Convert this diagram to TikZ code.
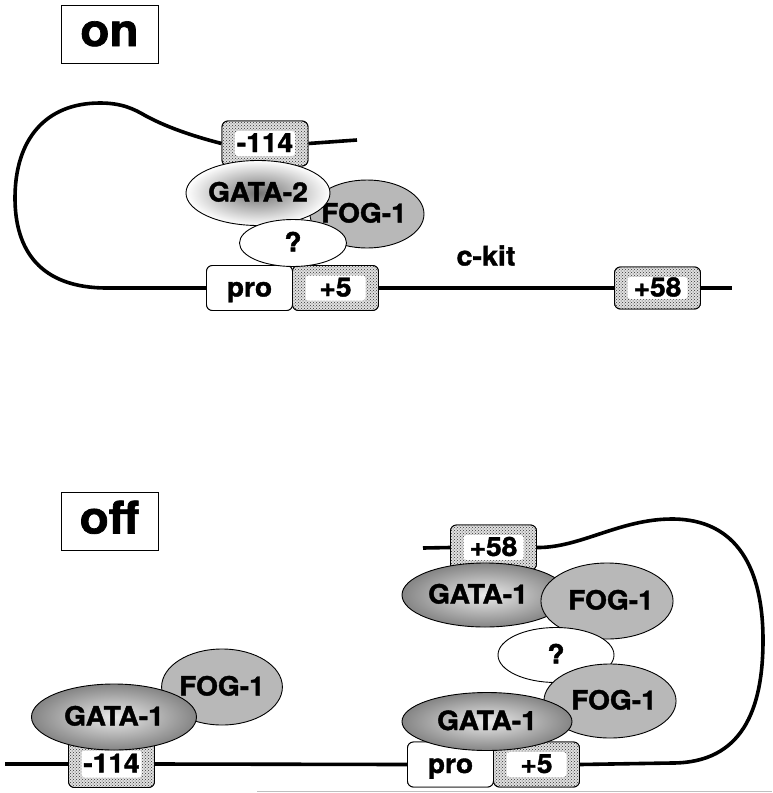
\documentclass[tikz,border=0pt]{standalone}
\usepackage{fontspec}
\setmainfont{TeX Gyre Heros}
\newfontfamily\lblfont{texgyreheros-bold.otf}[FakeBold=1.5,FakeStretch=1.06]
\usetikzlibrary{shapes.geometric,patterns}
\begin{document}
\begin{tikzpicture}[x=1pt,y=-1pt,
  strand/.style={line width=3.6pt},
  lbl/.style={font=\fontsize{26.5}{26.5}\lblfont, text height=17pt, text depth=0pt},
  titlebox/.style={draw, line width=1pt, minimum width=97pt, minimum height=58pt, inner sep=0pt,
    font=\fontsize{45}{45}\lblfont, text height=24pt, text depth=0pt},
  plainbox/.style={draw, line width=0.9pt, rounded corners=6pt, minimum width=86pt, minimum height=45pt, inner sep=0pt, lbl},
  probox/.style={plainbox, fill=white},
  dotbox/.style={plainbox, preaction={fill=black!12}, pattern=crosshatch dots, pattern color=black!80,
    path picture={\fill[white,rounded corners=3pt]
      ([shift={(13pt,-10pt)}]path picture bounding box.north west) rectangle
      ([shift={(-13pt,10pt)}]path picture bounding box.south east);}},
  blob/.style={ellipse, draw, line width=0.9pt, inner sep=0pt, lbl},
  fog/.style={blob, fill=black!28},
  gataone/.style={blob, inner color=white!92!black, outer color=black!48},
  gatatwo/.style={blob, inner color=black!55, outer color=white},
  qmark/.style={blob, fill=white}
]
\useasboundingbox (0,0) rectangle (772,793);

% ================= ON =================
\node[titlebox] (on) at (109.5,34) {on};

\node[dotbox] (m114a) at (265,143.5) {-114};
\node[probox] (proa) at (249.5,288) {pro};
\node[dotbox] (p5a) at (335.5,288) {+5};
\node[dotbox, minimum height=42pt] (p58a) at (657.5,288) {+58};
\coordinate (enda) at (357,140);
\coordinate (enda2) at (732,288);

\draw[strand] (proa.west) -- (107,288)
  .. controls (40,288) and (15,250) .. (15,198)
  .. controls (15,140) and (45,103) .. (100,103)
  .. controls (122,103) and (134,109) .. (146,116)
  .. controls (170,129) and (200,138) .. (m114a.west);
\draw[strand] (m114a.east) -- (enda);
\draw[strand] (p5a.east) -- (p58a.west);
\draw[strand] (p58a.east) -- (enda2);

% boxes again, on top of the strands
\node[dotbox] at (m114a) {-114};
\node[probox] at (proa) {pro};
\node[dotbox] at (p5a) {+5};
\node[dotbox, minimum height=42pt] at (p58a) {+58};

\node[fog, minimum width=114pt, minimum height=68pt] (foga) at (367,214) {\hspace*{-6pt}FOG-1};
\node[gatatwo, minimum width=144pt, minimum height=65pt] (gata2) at (258,193) {GATA-2};
\node[qmark, minimum width=107pt, minimum height=47pt] (qa) at (293,243) {?};

\node[lbl, font=\fontsize{27}{27}\lblfont] (ckit) at (486,257) {c-kit};

% ================= OFF =================
\node[titlebox] (off) at (109.5,521.5) {off};

\coordinate (startb) at (5,764);
\coordinate (endb) at (423,548);
\node[dotbox, minimum height=47pt] (m114b) at (111.5,764) {-114};
\node[probox] (prob) at (450.5,764.5) {pro};
\node[dotbox] (p5b) at (536.5,764.5) {+5};
\node[dotbox] (p58b) at (493.5,547.5) {+58};

\draw[strand] (startb) -- (m114b.west);
\draw[strand] (m114b.east) -- (prob.west);
\draw[strand] (p5b.east) -- (672,763)
  .. controls (742,763) and (763,710) .. (763,640)
  .. controls (763,570) and (738,519) .. (672,519)
  .. controls (620,519) and (580,548) .. (p58b.east);
\draw[strand] (p58b.west) -- (endb);

\node[dotbox, minimum height=47pt] at (m114b) {-114};
\node[probox] at (prob) {pro};
\node[dotbox] at (p5b) {+5};
\node[dotbox] at (p58b) {+58};

% left complex
\node[fog, minimum width=112pt, minimum height=76pt] (fogl) at (222,687) {FOG-1};
\node[gataone, minimum width=165pt, minimum height=66pt] (gatal) at (114,717) {GATA-1};

% right complex
\node[gataone, minimum width=166pt, minimum height=64pt] (gataru) at (485,595) {\hspace*{-14pt}GATA-1};
\node[fog, minimum width=114pt, minimum height=76pt] (fogru) at (607,601) {\hspace*{8pt}FOG-1};
\node[qmark, minimum width=116pt, minimum height=55pt] (qb) at (556,655) {?};
\node[fog, minimum width=114pt, minimum height=74pt] (fogrl) at (610,701) {\hspace*{8pt}FOG-1};
\node[gataone, minimum width=170pt, minimum height=58pt] (gatarl) at (487,721.5) {GATA-1};

% faint rule at the bottom
\draw[black!25, line width=1pt] (257,791) -- (772,791);
\end{tikzpicture}
\end{document}
